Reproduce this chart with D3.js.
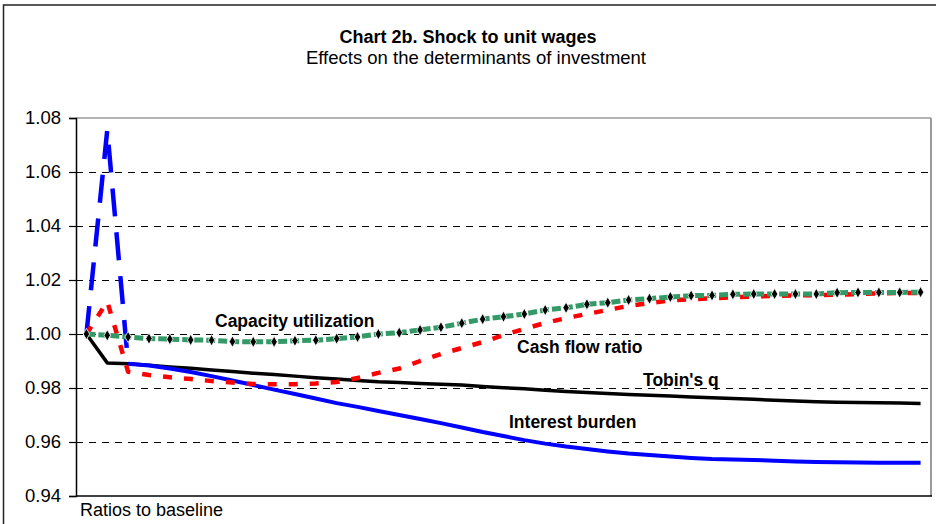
<!DOCTYPE html>
<html>
<head>
<meta charset="utf-8">
<script src="https://cdn.jsdelivr.net/npm/d3@7"></script>
<style>
  body { margin: 0; background: #fff; }
  svg { display: block; font-family: "Liberation Sans", Arial, sans-serif; }
</style>
</head>
<body>
<svg width="936" height="524"></svg>
<script>
// values, one per period (41 periods, no x labels)
const capacityUtilization = [1.0000, 0.9995, 0.9989, 0.9983, 0.9981, 0.9978, 0.9977, 0.9972, 0.9971, 0.9971,
  0.9975, 0.9977, 0.9983, 0.9989, 1.0000, 1.0005, 1.0015, 1.0025, 1.0040, 1.0055,
  1.0064, 1.0074, 1.0089, 1.0097, 1.0110, 1.0116, 1.0126, 1.0131, 1.0137, 1.0142,
  1.0143, 1.0147, 1.0148, 1.0148, 1.0148, 1.0148, 1.0153, 1.0154, 1.0154, 1.0154, 1.0155];

const cashFlowRatio = [1.0000, 1.0120, 0.9860, 0.9848, 0.9840, 0.9833, 0.9826, 0.9820, 0.9815, 0.9814,
  0.9814, 0.9817, 0.9822, 0.9837, 0.9856, 0.9872, 0.9900, 0.9926, 0.9948, 0.9970,
  0.9996, 1.0019, 1.0041, 1.0059, 1.0074, 1.0089, 1.0104, 1.0115, 1.0124, 1.0129,
  1.0132, 1.0136, 1.0139, 1.0141, 1.0143, 1.0144, 1.0146, 1.0148, 1.0150, 1.0152, 1.0152];

const tobinsQ = [1.0000, 0.9893, 0.9890, 0.9884, 0.9878, 0.9873, 0.9867, 0.9861, 0.9855, 0.9850,
  0.9844, 0.9838, 0.9833, 0.9828, 0.9823, 0.9820, 0.9817, 0.9814, 0.9811, 0.9806,
  0.9801, 0.9797, 0.9792, 0.9787, 0.9783, 0.9780, 0.9776, 0.9773, 0.9770, 0.9767,
  0.9764, 0.9761, 0.9758, 0.9755, 0.9752, 0.9749, 0.9747, 0.9746, 0.9745, 0.9744, 0.9743];

const interestBurden = [1.0000, 1.0756, 0.9890, 0.9883, 0.9872, 0.9859, 0.9844, 0.9828, 0.9811, 0.9794,
  0.9778, 0.9761, 0.9744, 0.9730, 0.9715, 0.9700, 0.9685, 0.9670, 0.9654, 0.9637,
  0.9622, 0.9607, 0.9594, 0.9583, 0.9574, 0.9565, 0.9557, 0.9552, 0.9546, 0.9541,
  0.9537, 0.9535, 0.9533, 0.9531, 0.9528, 0.9526, 0.9525, 0.9524, 0.9523, 0.9523, 0.9523];

const yTicks = [0.94, 0.96, 0.98, 1.00, 1.02, 1.04, 1.06, 1.08];

const periods = d3.range(capacityUtilization.length);

const svg = d3.select("svg");
const plot = { left: 76, right: 931, top: 118, bottom: 496 };

// outer chart frame (only top and left edges fall inside the picture)
svg.append("rect")
  .attr("x", 3.5).attr("y", 5)
  .attr("width", 960).attr("height", 560)
  .attr("fill", "none")
  .attr("stroke", "#222")
  .attr("stroke-width", 1.5);

const x = d3.scalePoint().domain(periods).range([plot.left, plot.right]).padding(0.5);
const y = d3.scaleLinear().domain([0.94, 1.08]).range([plot.bottom, plot.top]);

// titles
svg.append("text")
  .attr("x", 468).attr("y", 43)
  .attr("text-anchor", "middle")
  .attr("font-size", 18).attr("font-weight", "bold")
  .text("Chart 2b. Shock to unit wages");
svg.append("text")
  .attr("x", 476).attr("y", 64)
  .attr("text-anchor", "middle")
  .attr("font-size", 18.5)
  .text("Effects on the determinants of investment");

// dashed gridlines
svg.append("g")
  .attr("transform", `translate(${plot.left},0)`)
  .call(d3.axisLeft(y).tickValues(yTicks.filter(d => d > 0.94 && d < 1.08)).tickSize(-(plot.right - plot.left)).tickFormat(""))
  .call(g => g.select(".domain").remove())
  .call(g => g.selectAll("line").attr("stroke", "#000").attr("stroke-dasharray", "7,6"));

// plot area border (top / right grey, bottom black)
svg.append("line").attr("x1", plot.left).attr("x2", plot.right).attr("y1", plot.top).attr("y2", plot.top)
  .attr("stroke", "#9a9a9a").attr("stroke-width", 1.5);
svg.append("line").attr("x1", plot.right).attr("x2", plot.right).attr("y1", plot.top).attr("y2", plot.bottom)
  .attr("stroke", "#9a9a9a").attr("stroke-width", 2);
svg.append("line").attr("x1", plot.left).attr("x2", plot.right + 1).attr("y1", plot.bottom).attr("y2", plot.bottom)
  .attr("stroke", "#000").attr("stroke-width", 1.5);

// y axis
const yAxis = svg.append("g")
  .attr("transform", `translate(${plot.left},0)`)
  .call(d3.axisLeft(y).tickValues(yTicks).tickFormat(d3.format(".2f")).tickSize(7).tickPadding(8));
yAxis.select(".domain").attr("stroke", "#000").attr("stroke-width", 1.5);
yAxis.selectAll("line").attr("stroke", "#000").attr("stroke-width", 1.2);
yAxis.selectAll("text")
  .attr("font-family", "Liberation Sans, Arial, sans-serif")
  .attr("font-size", 18.5).attr("fill", "#000");

function drawSeries(values, from, to, color, width, dash) {
  const pts = values.map((v, i) => [i, v]).slice(from, to + 1);
  svg.append("path")
    .datum(pts)
    .attr("fill", "none")
    .attr("stroke", color)
    .attr("stroke-width", width)
    .attr("stroke-dasharray", dash)
    .attr("stroke-linejoin", "round")
    .attr("d", d3.line().x(d => x(d[0])).y(d => y(d[1])));
}

// Tobin's q
drawSeries(tobinsQ, 0, 40, "#000", 3.5, null);
// Interest burden: dashed spike at the start, solid afterwards
drawSeries(interestBurden, 0, 2, "#0000ff", 4.5, "28,16");
drawSeries(interestBurden, 2, 40, "#0000ff", 4, null);
// Cash flow ratio
drawSeries(cashFlowRatio, 0, 40, "#ff0000", 4.5, "9,12");
// Capacity utilization
drawSeries(capacityUtilization, 0, 40, "#339966", 5, "9,3");

svg.append("g")
  .selectAll("path")
  .data(capacityUtilization)
  .join("path")
  .attr("transform", (d, i) => `translate(${x(i)},${y(d)})`)
  .attr("d", d3.symbol(d3.symbolDiamond, 36))
  .attr("fill", "#000")
  .attr("stroke", "#fff")
  .attr("stroke-width", 0.8);

// series labels
const labels = [
  { text: "Capacity utilization", x: 215, y: 327 },
  { text: "Cash flow ratio", x: 517, y: 353 },
  { text: "Tobin's q", x: 643, y: 386 },
  { text: "Interest burden", x: 509, y: 428 }
];
svg.append("g")
  .selectAll("text")
  .data(labels)
  .join("text")
  .attr("x", d => d.x).attr("y", d => d.y)
  .attr("font-size", 17.5).attr("font-weight", "bold")
  .text(d => d.text);

svg.append("text")
  .attr("x", 80).attr("y", 516)
  .attr("font-size", 18)
  .text("Ratios to baseline");
</script>
</body>
</html>
